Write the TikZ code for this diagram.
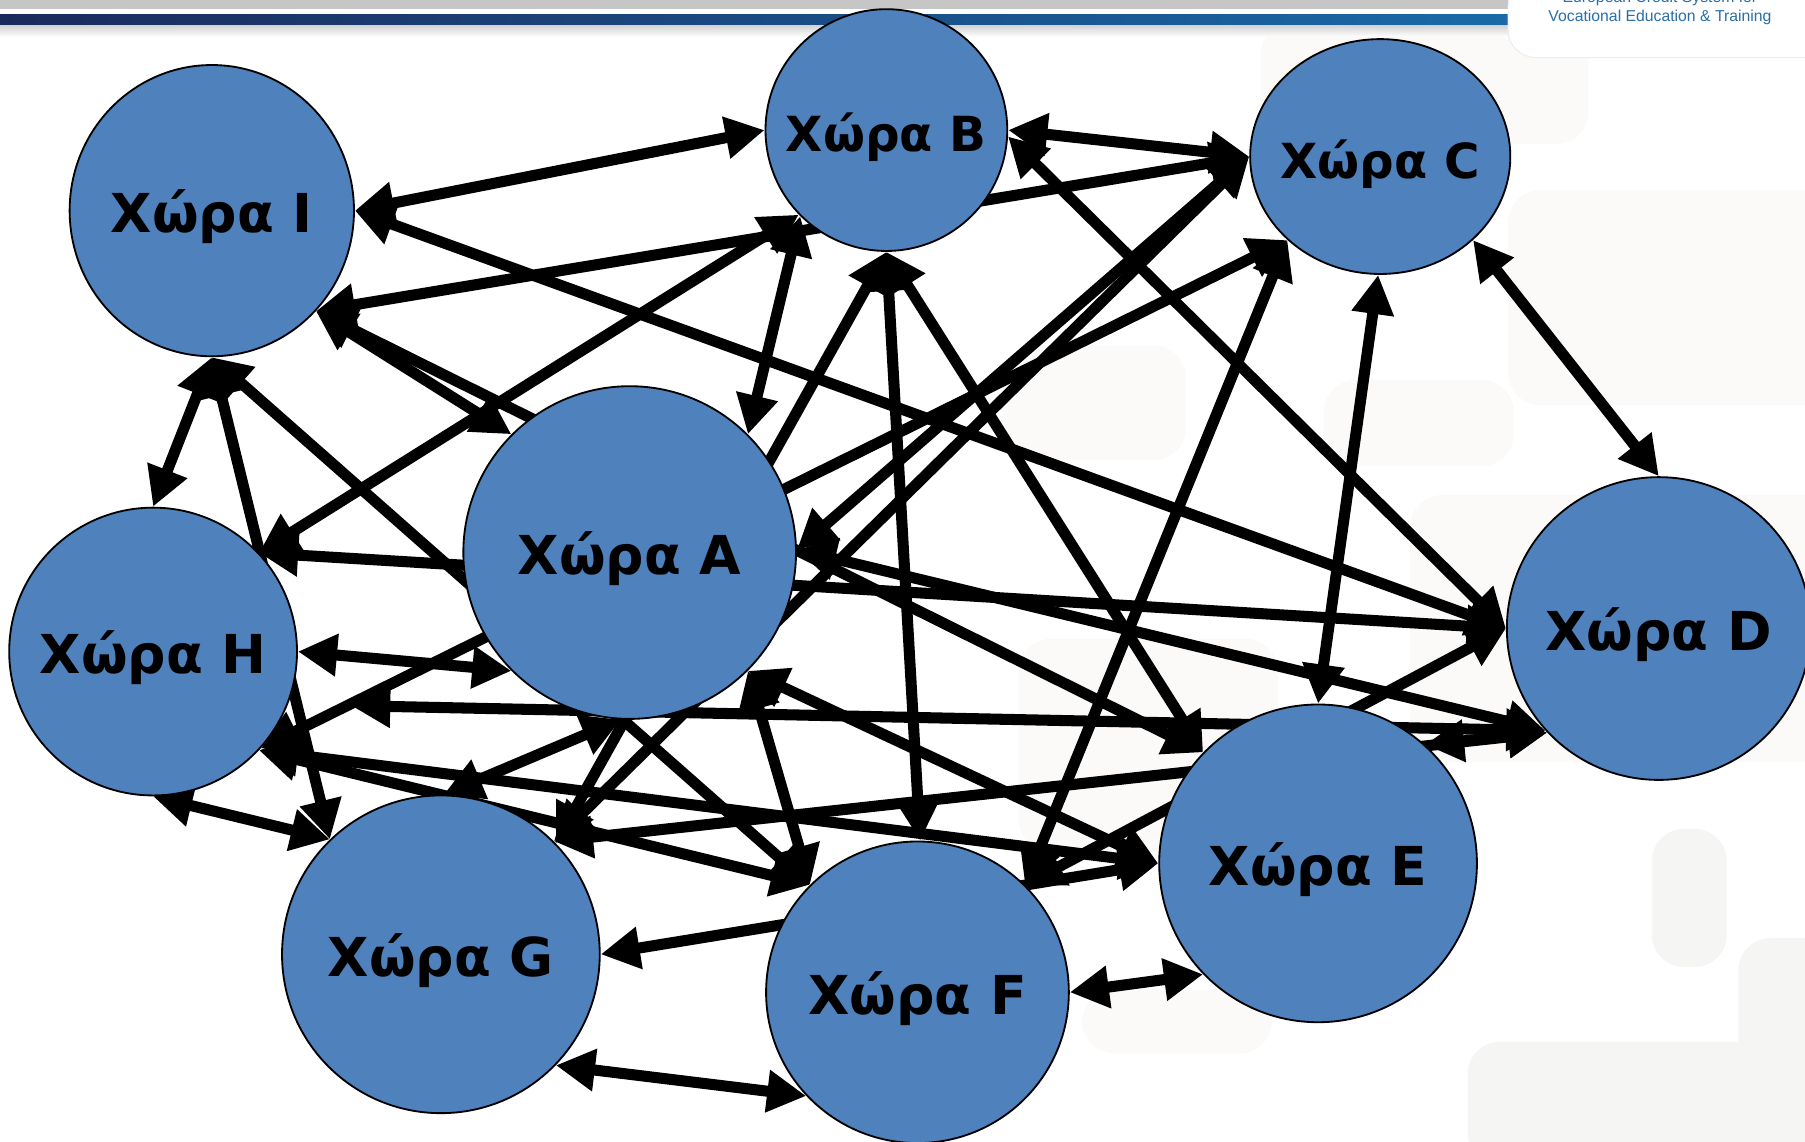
\documentclass[tikz,border=0pt]{standalone}
\usepackage{fontspec}
\setmainfont{DejaVu Sans}
\newfontfamily\logofont{Liberation Sans}
\usepackage{xcolor}
\definecolor{chora}{HTML}{4F81BD}
\definecolor{logoblue}{HTML}{2A6FA8}
\definecolor{barleft}{HTML}{1B2A5C}
\definecolor{barright}{HTML}{1A6AA8}
\definecolor{faint}{HTML}{FBFAF8}
\definecolor{fainter}{HTML}{F5F5F3}
\usetikzlibrary{arrows.meta,positioning,shapes.geometric}
\pgfdeclarelayer{paper}
\pgfdeclarelayer{wires}
\pgfsetlayers{paper,wires,main}
\newcommand{\chora}[1]{\makebox[0pt]{Χώρα #1}}
\tikzset{
	country/.style={ellipse,draw=black,line width=.8pt,fill=chora,inner sep=0pt,
		text height=19pt,text depth=0pt,font=\fontsize{23.3}{28}\selectfont\bfseries},
	small country/.style={country,font=\fontsize{21}{28}\selectfont\bfseries},
	link/.style={line width=4.8pt,{Triangle[length=17pt,width=17.5pt]}-{Triangle[length=17pt,width=17.5pt]}},
	logo text/.style={font=\logofont\fontsize{6.85}{9}\selectfont,text=logoblue,inner sep=0pt}
}
\begin{document}
\begin{tikzpicture}[x=.5pt,y=.5pt,on grid]
  \useasboundingbox (0,0) rectangle (1568,992);
  \node [country,minimum width=123.5pt,minimum height=126.5pt] (I) at (184,809) {\chora{I}};
  \node [small country,above right=70 and 586 of I,minimum width=105pt,minimum height=105pt] (B) {\chora{B}};
  \node [small country,below right=23 and 429 of B,minimum width=113pt,minimum height=102pt] (C) {\chora{C}};
  \node [country,below right=297 and 363 of I,minimum width=144.5pt,minimum height=144.5pt] (A) {\chora{A}};
  \node [country,below left=86 and 414 of A,minimum width=125pt,minimum height=125pt] (H) {\chora{H}};
  \node [country,below right=263 and 250 of H,minimum width=138pt,minimum height=138pt] (G) {\chora{G}};
  \node [country,below right=33 and 414 of G,minimum width=131.5pt,minimum height=131pt] (F) {\chora{F}};
  \node [country,above right=112 and 348 of F,minimum width=138pt,minimum height=138pt] (E) {\chora{E}};
  \node [country,above right=204 and 296 of E,minimum width=132pt,minimum height=131.5pt] (D) {\chora{D}};
  \coordinate (stub) at (305,379);
  \begin{pgfonlayer}{paper}
    \foreach \xa/\ya/\xb/\yb in {1095/867/1380/972,870/592/1030/692,1150/587/1315/662,885/252/1110/437,
        940/77/1105/132,1310/640/1600/827,1225/330/1600/562}
      \path [fill=faint,rounded corners=14pt] (\xa,\ya) rectangle (\xb,\yb);
    \foreach \xa/\ya/\xb/\yb in {1435/152/1500/272,1275/-20/1600/87,1510/47/1600/177}
      \path [fill=fainter,rounded corners=14pt] (\xa,\ya) rectangle (\xb,\yb);
    \fill [gray!45] (0,984) rectangle (1310,992);
    \shade [left color=barleft,right color=barright] (0,970) rectangle (1310,979);
    \shade [top color=gray!35,bottom color=white] (0,960) rectangle (1310,970);
    \filldraw [draw=gray!15,fill=white,rounded corners=12pt] (1310,942) rectangle (1600,1010);
    \node [logo text] (logoA) at (1442,993) {European Credit System for};
    \node [logo text] (logoB) at (1442,977) {Vocational Education \& Training};
  \end{pgfonlayer}
  \begin{pgfonlayer}{wires}
    \draw [link] (I.0) to (B.180);
    \draw [link] (I.0) to (D.180);
    \draw [link] (I.-44) to (C.180);
    \draw [link] (I.-44) to (E.136);
    \draw [link] (I.-44) to (A.135);
    \draw [link] (I.270) to (H.90);
    \draw [link] (I.270) to (G.134);
    \draw [link] (I.270) to (F.135);
    \draw [link] (B.0) to (C.180);
    \draw [link] (B.-3) to (D.180);
    \draw [link] (B.225) to (A.45);
    \draw [link] (B.224) to (H.43);
    \draw [link] (B.270) to (F.89);
    \draw [link] (B.270) to (G.44);
    \draw [link] (B.270) to (E.136);
    \draw [link] (C.180) to (A.1);
    \draw [link] (C.180) to (G.45);
    \draw [link] (C.222) to (H.-42);
    \draw [link] (C.222) to (F.45);
    \draw [link] (C.269) to (E.90);
    \draw [link] (C.-42) to (D.90);
    \draw [link] (H.43) to (D.180);
    \draw [link] (H.0) to (A.225);
    \draw [link] (stub) to (D.222);
    \draw [link] (H.-43) to (E.180);
    \draw [link] (H.-43) to (F.135);
    \draw [link] (H.270) to (G.134);
    \draw [link] (A.267) to (G.89);
    \draw [link] (A.1) to (D.222);
    \draw [link] (A.-45) to (F.135);
    \draw [link] (A.-45) to (E.180);
    \draw [link] (G.45) to (D.223);
    \draw [link] (G.0) to (E.180);
    \draw [link] (G.-44) to (F.223);
    \draw [link] (E.48) to (D.223);
    \draw [link] (F.45) to (D.180);
    \draw [link] (F.0) to (E.224);
  \end{pgfonlayer}
\end{tikzpicture}
\end{document}
